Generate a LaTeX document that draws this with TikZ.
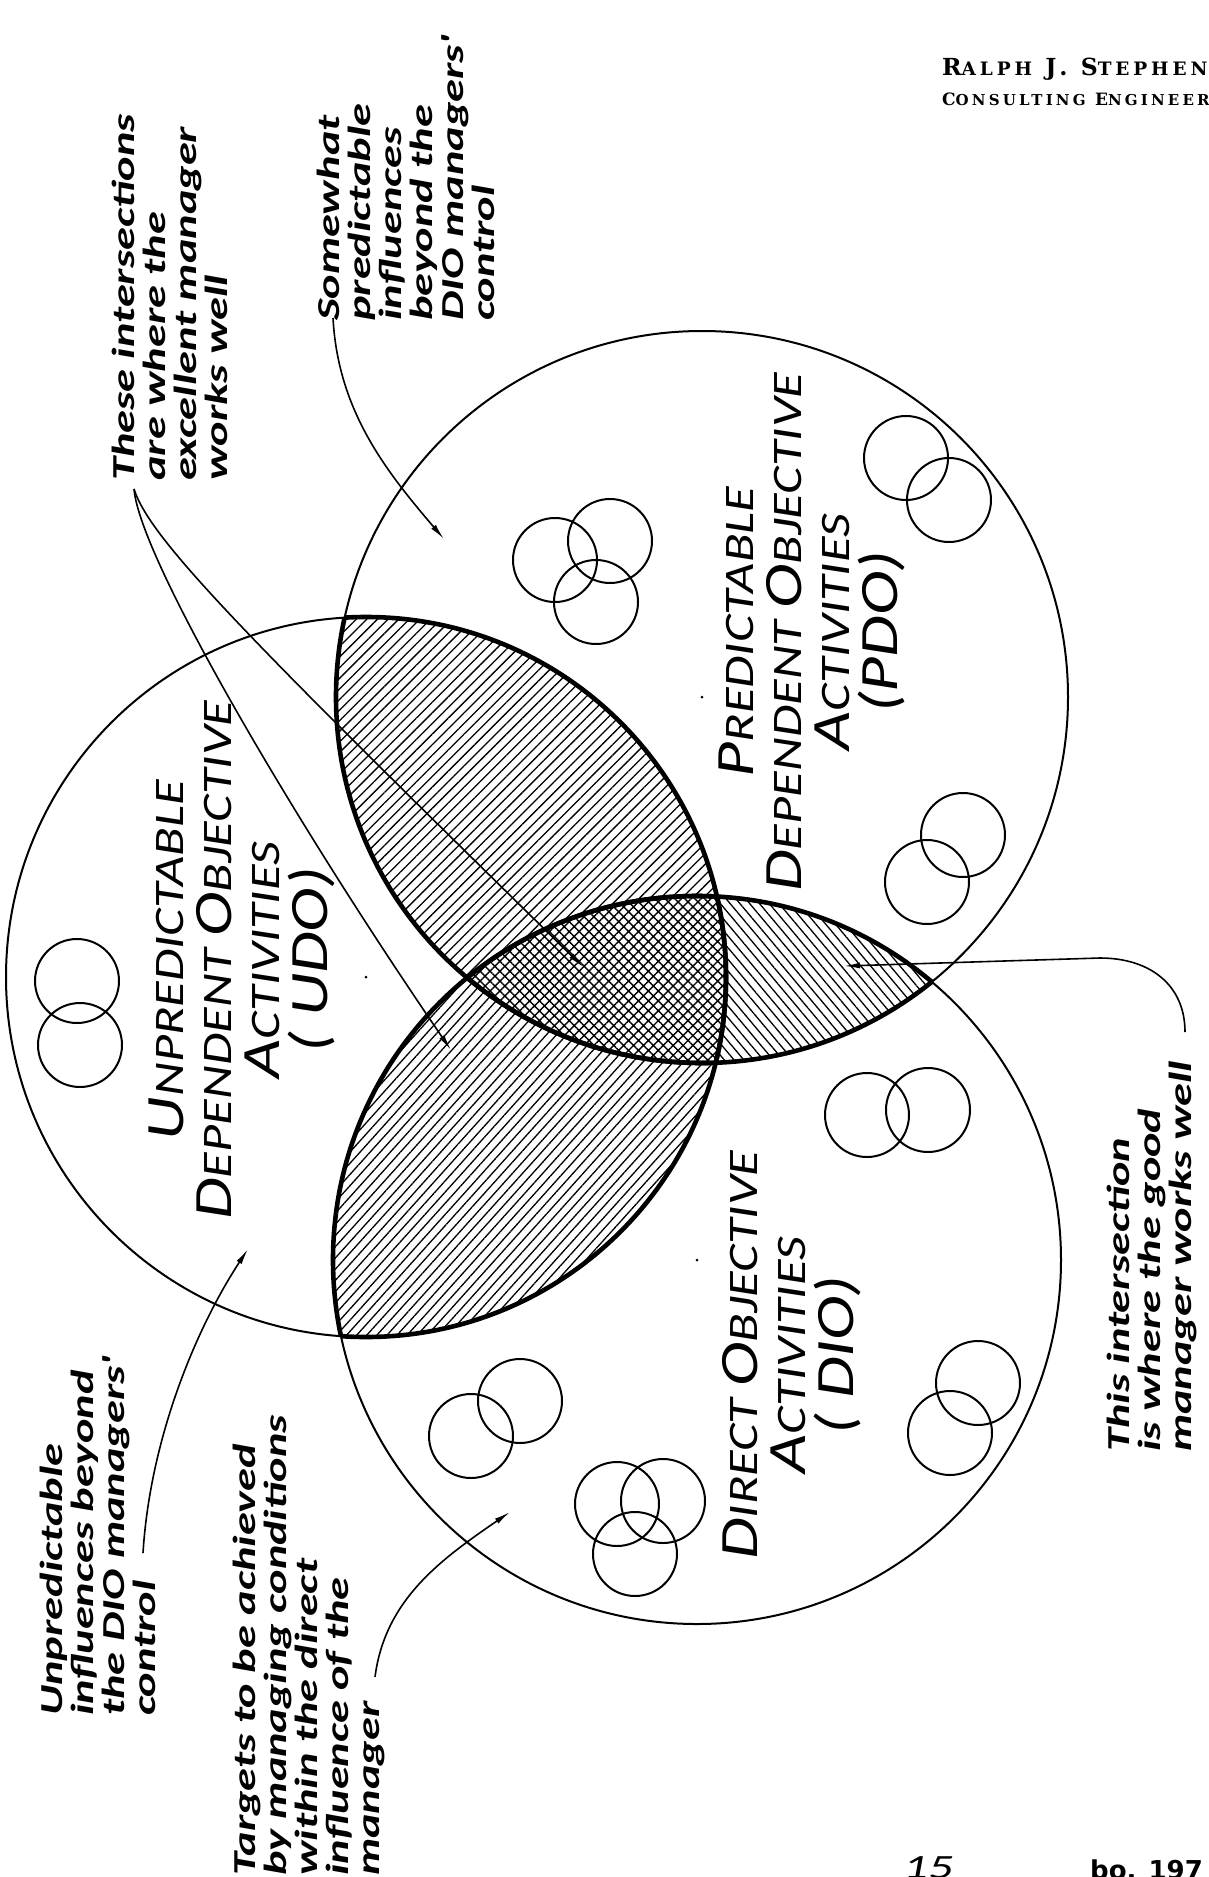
\documentclass[tikz,border=0pt]{standalone}
\usepackage{fontspec}
\setmainfont{Carlito}
\newfontfamily\handfam[FakeStretch=1.45]{Carlito}
\newfontfamily\labfam[FakeStretch=1.25]{Carlito}
\newfontfamily\hdrfam[LetterSpace=21]{DejaVu Serif}
\newfontfamily\typfam{DejaVu Sans}
\usetikzlibrary{patterns.meta,arrows.meta}
\newcommand\notefont{\handfam\bfseries\itshape\fontsize{32}{31}\selectfont}
\newcommand\labelfont{\labfam\itshape\fontsize{42}{48}\selectfont}
\newcommand\BigL[1]{{\fontsize{54}{48}\selectfont #1}}
\newcommand\HdrS[1]{{\fontsize{18.5}{18.5}\selectfont #1}}
\newcommand\HdrT[1]{{\fontsize{15}{15}\selectfont #1}}
\tikzset{
  circthin/.style={line width=2pt},
  circthick/.style={line width=4.6pt},
  smallc/.style={line width=2pt},
  leader/.style={line width=1.6pt,-{Latex[length=16pt,width=6pt]}},
  note/.style={rotate=90,anchor=north west,inner sep=0pt,align=left,font=\notefont},
  lbl/.style={rotate=90,inner sep=0pt,align=center,font=\labelfont},
  hatchup/.style={pattern={Lines[angle=45,distance=7.5pt,line width=1.3pt]}},
  hatchlow/.style={pattern={Lines[angle=48,distance=7.5pt,line width=1.3pt]}},
  hatchright/.style={pattern={Lines[angle=-50,distance=7.5pt,line width=1.3pt]}},
  crosshatch/.style={pattern={Hatch[angle=45,distance=7pt,line width=1.4pt]}},
  dot/.style={fill=black}
}
\begin{document}
\begin{tikzpicture}[x=1pt,y=1pt]
\fill[white] (0,0) rectangle (1209,-1877);
\useasboundingbox (0,0) rectangle (1209,-1877);
\def\rU{360}\def\rP{366}\def\rD{364}
\coordinate (cU) at (366,-977);
\coordinate (cP) at (702,-697);
\coordinate (cD) at (697,-1260);

% hatched pairwise intersections
\begin{scope}
  \clip (cU) circle[radius=\rU];
  \fill[hatchup] (cP) circle[radius=\rP];
\end{scope}
\begin{scope}
  \clip (cU) circle[radius=\rU];
  \fill[hatchlow] (cD) circle[radius=\rD];
\end{scope}
\begin{scope}
  \clip (cP) circle[radius=\rP];
  \fill[hatchright] (cD) circle[radius=\rD];
\end{scope}
% triple intersection
\begin{scope}
  \clip (cU) circle[radius=\rU];
  \clip (cP) circle[radius=\rP];
  \fill[white] (cD) circle[radius=\rD];
  \fill[crosshatch] (cD) circle[radius=\rD];
\end{scope}

% thin circles
\draw[circthin] (cU) circle[radius=\rU];
\draw[circthin] (cP) circle[radius=\rP];
\draw[circthin] (cD) circle[radius=\rD];
% thick outlines of the intersections
\begin{scope}
  \clip (cP) circle[radius=\rP];
  \draw[circthick] (cU) circle[radius=\rU];
  \draw[circthick] (cD) circle[radius=\rD];
\end{scope}
\begin{scope}
  \clip (cU) circle[radius=\rU];
  \draw[circthick] (cP) circle[radius=\rP];
  \draw[circthick] (cD) circle[radius=\rD];
\end{scope}
\begin{scope}
  \clip (cD) circle[radius=\rD];
  \draw[circthick] (cU) circle[radius=\rU];
  \draw[circthick] (cP) circle[radius=\rP];
\end{scope}
\fill[dot] (cU) circle[radius=1.5];
\fill[dot] (cP) circle[radius=1.5];
\fill[dot] (cD) circle[radius=1.5];

% small circles
\foreach \p in {(555,-560),(610,-541),(596,-602),(906,-458),(949,-500),(963,-835),(927,-882),
  (77,-981),(80,-1045),
  (867,-1115),(928,-1110),(978,-1383),(950,-1433),(520,-1401),(471,-1436),(617,-1504),(663,-1501),(635,-1554)}
  \draw[smallc] \p circle[radius=42];

% region labels
\node[lbl] (udo) at (242,-960) {\BigL{U}NPREDICTABLE\\\BigL{D}EPENDENT \BigL{O}BJECTIVE\\\BigL{A}CTIVITIES\\\BigL{( UDO)}};
\node[lbl] (pdo) at (812,-632) {\BigL{P}REDICTABLE\\\BigL{D}EPENDENT \BigL{O}BJECTIVE\\\BigL{A}CTIVITIES\\\BigL{(PDO)}};
\node[lbl] (dio) at (792,-1355) {\BigL{D}IRECT \BigL{O}BJECTIVE\\\BigL{A}CTIVITIES\\\BigL{( DIO)}};

% notes
\node[note] (these) at (112,-481) {These intersections\\are where the\\excellent manager\\works well};
\node[note] (some) at (317,-321) {Somewhat\\predictable\\influences\\beyond the\\DIO managers'\\control};
\node[note] (unp) at (40,-1716) {Unpredictable\\influences beyond\\the DIO managers'\\control};
\node[note] (targ) at (233,-1876) {Targets to be achieved\\by managing conditions\\within the direct\\influence of the\\manager};
\node[note] (thisn) at (1107,-1452) {This intersection\\is where the good\\manager works well};

% leaders
\coordinate (theseS) at (134,-489);
\coordinate (theseA) at (451,-1050);
\coordinate (theseB) at (583,-967);
\draw[leader] (theseS) .. controls (140,-560) and (300,-830) .. (theseA);
\draw[leader] (theseS) .. controls (150,-540) and (250,-640) .. (theseB);
\coordinate (someS) at (333,-318);
\coordinate (someE) at (444,-539);
\draw[leader] (someS) .. controls (338,-410) and (385,-470) .. (someE);
\coordinate (unpS) at (143,-1553);
\coordinate (unpE) at (248,-1249);
\draw[leader] (unpS) .. controls (150,-1440) and (195,-1330) .. (unpE);
\coordinate (tarS) at (375,-1677);
\coordinate (tarE) at (510,-1512);
\draw[leader] (tarS) .. controls (385,-1600) and (440,-1560) .. (tarE);
\coordinate (thisS) at (1185,-1032);
\coordinate (thisM) at (1100,-958);
\coordinate (thisE) at (844,-966);
\draw[leader] (thisS) .. controls (1185,-985) and (1150,-958) .. (thisM) -- (thisE);

% letterhead and page marks
\node[anchor=base west,inner sep=0pt,font=\hdrfam\bfseries\fontsize{23.5}{23.5}\selectfont] (hdr1) at (942,-75) {R\HdrS{ALPH} J. S\HdrS{TEPHEN}};
\node[anchor=base west,inner sep=0pt,font=\hdrfam\bfseries\fontsize{17}{17}\selectfont] (hdr2) at (942,-105) {C\HdrT{ONSULTING} E\HdrT{NGINEER}};
\node[anchor=base west,inner sep=0pt,font=\handfam\itshape\fontsize{34}{34}\selectfont] (pg) at (903,-1878) {15};
\node[anchor=base west,inner sep=0pt,font=\typfam\bfseries\fontsize{26}{26}\selectfont] (no) at (1090,-1879) {bo. 197};
\end{tikzpicture}
\end{document}
